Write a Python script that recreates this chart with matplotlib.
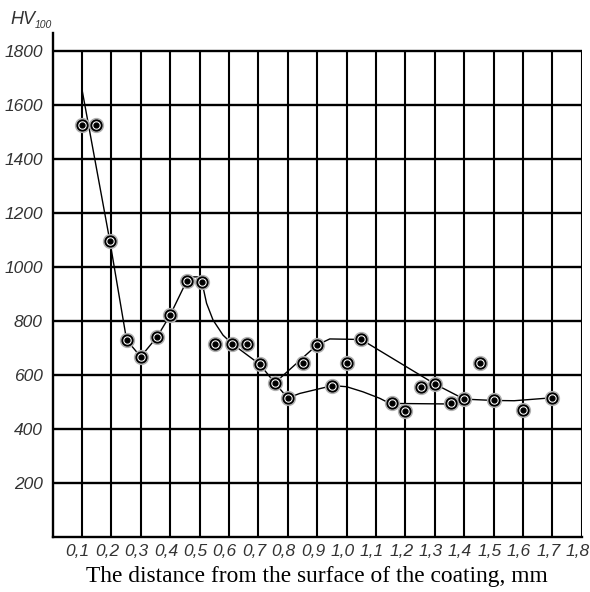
import matplotlib
matplotlib.use('Agg')
import matplotlib.pyplot as plt
from matplotlib.transforms import ScaledTranslation

# measured points (mm, HV100)
point_x = [0.10, 0.148, 0.195, 0.252, 0.30, 0.356, 0.40, 0.456, 0.508, 0.552, 0.611, 0.66,
           0.705, 0.756, 0.80, 0.852, 0.899, 0.952, 1.0, 1.05, 1.153, 1.2, 1.252, 1.302,
           1.354, 1.40, 1.453, 1.50, 1.60, 1.70]
point_y = [1525, 1525, 1097, 730, 668, 742, 822, 948, 946, 716, 716, 716,
           640, 571, 515, 643, 711, 559, 643, 732, 495, 467, 557, 566,
           497, 511, 643, 506, 470, 516]

# hand drawn curves
main_x = [0.10, 0.195, 0.252, 0.30, 0.356, 0.40, 0.456, 0.467, 0.495, 0.508, 0.524, 0.546, 0.58,
          0.611, 0.705, 0.756, 0.80]
main_y = [1660, 1097, 730, 668, 742, 822, 948, 964, 964, 946, 866, 804, 748,
          716, 640, 571, 515]
lower_x = [0.80, 0.841, 0.952, 1.0, 1.056, 1.113, 1.147, 1.35, 1.40, 1.50, 1.57, 1.70]
lower_y = [515, 532, 561, 557, 538, 514, 495, 493, 511, 506, 505, 516]
upper_x = [0.756, 0.899, 0.943, 1.05, 1.302, 1.40]
upper_y = [571, 711, 734, 732, 566, 511]

x_ticks = [0.1, 0.2, 0.3, 0.4, 0.5, 0.6, 0.7, 0.8, 0.9, 1.0, 1.1, 1.2, 1.3, 1.4, 1.5, 1.6, 1.7, 1.8]
x_labels = ['0,1', '0,2', '0,3', '0,4', '0,5', '0,6', '0,7', '0,8', '0,9', '1,0',
            '1,1', '1,2', '1,3', '1,4', '1,5', '1,6', '1,7', '1,8']
y_ticks = [200, 400, 600, 800, 1000, 1200, 1400, 1600, 1800]

tick_font = ['Liberation Sans', 'DejaVu Sans']
ink = '#333333'

fig = plt.figure(figsize=(5.9, 5.92), dpi=100)
ax = fig.add_axes([0.089, 0.0929, 0.897, 0.851])
ax.set_xlim(0, 1.8)
ax.set_ylim(0, 1867)

# grid stops at 1800, the y axis goes a bit higher
ax.hlines(y_ticks, 0, 1.8, color='black', lw=1.7, zorder=1)
ax.vlines(x_ticks, 0, 1800, color='black', lw=1.5, zorder=1)

for s in ['top', 'right']:
    ax.spines[s].set_visible(False)
ax.spines['left'].set_linewidth(1.7)
ax.spines['bottom'].set_linewidth(1.7)

ax.plot(main_x, main_y, color='black', lw=1.0, zorder=2)
ax.plot(lower_x, lower_y, color='black', lw=1.0, zorder=2)
ax.plot(upper_x, upper_y, color='black', lw=1.0, zorder=2)

ax.plot(point_x, point_y, 'o', ms=10, mfc='white', mec='#b0b0b0', mew=1.0, zorder=3)
ax.plot(point_x, point_y, 'o', ms=7.5, mfc='white', mec='black', mew=1.4, zorder=4)
ax.plot(point_x, point_y, 'o', ms=3.5, color='black', zorder=5)

ax.set_xticks(x_ticks)
ax.set_xticklabels(x_labels, family=tick_font, style='italic', fontsize=12.5, color=ink)
ax.set_yticks(y_ticks)
ax.set_yticklabels([str(v) for v in y_ticks], family=tick_font, style='italic', fontsize=12.5, color=ink)
ax.tick_params(length=0, pad=5)
ax.tick_params(axis='y', pad=7)

# labels sit a little left of their lines in the original
shift = ScaledTranslation(-3 / 72, 0, fig.dpi_scale_trans)
for lab in ax.get_xticklabels():
    lab.set_transform(lab.get_transform() + shift)

ax.set_xlabel('The distance from the surface of the coating, mm', family='Liberation Serif',
              fontsize=16.8, labelpad=5)

fig.text(0.017, 0.960, 'HV', family=tick_font, style='italic', fontsize=13, color=ink)
fig.text(0.059, 0.952, '100', family=tick_font, style='italic', fontsize=7.5, color=ink)

plt.savefig('out.png', dpi=100)
